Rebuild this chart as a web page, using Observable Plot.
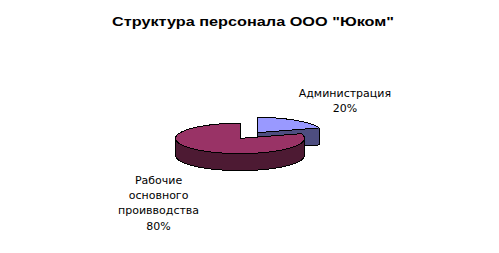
<!DOCTYPE html>
<html>
<head>
<meta charset="utf-8">
<script src="https://cdn.jsdelivr.net/npm/d3@7"></script>
<script src="https://cdn.jsdelivr.net/npm/@observablehq/plot@0.6"></script>
<style>
  html, body { margin: 0; padding: 0; background: #ffffff; }
  #chart svg { display: block; }
</style>
</head>
<body>
<div id="chart"></div>
<script>
// Staff structure of the company, drawn as an exploded 3D pie.
const title = "Структура персонала ООО \"Юком\"";
const categories = ["Администрация", "Рабочие\nосновного\nпроиввoдства"];
const shares = [20, 80];
const explodeBy = [0.47, 0];          // radial offset of each slice, in radii
const topColors = ["#9999ff", "#993366"];
const sideColors = ["#4d4d80", "#4d1a33"];

// Frame and pie geometry (pixels)
const W = 499, H = 253;
const R = 64.5;                 // horizontal radius in px = one unit
const cx = 239.5, cy = 137.9;   // pie centre
const tilt = 15.2 / R;          // vertical squash of the top face
const depth = 17 / R;           // thickness of the pie
const labelFont = "11px 'DejaVu Sans'";
const titleWidth = 282;         // the title is set wide and tight

const pie = d3.pie().sort(null).value(d => d)(shares);
const total = d3.sum(shares);

function slicePoint(s, theta, r, h) {
  const u = s.ou + r * Math.sin(theta);
  const v = s.ov + r * Math.cos(theta);
  return {x: u, y: v * tilt - h};
}
function arcPoints(s, t0, t1, h) {
  const n = Math.max(2, Math.ceil(Math.abs(t1 - t0) / (Math.PI / 180)));
  return d3.range(n + 1).map(i => slicePoint(s, t0 + (t1 - t0) * i / n, 1, h));
}

const slices = pie.map((p, i) => {
  const mid = (p.startAngle + p.endAngle) / 2;
  return {
    i, a: p.startAngle, b: p.endAngle, mid,
    ou: explodeBy[i] * Math.sin(mid),
    ov: explodeBy[i] * Math.cos(mid)
  };
});

// Faces, painted from back to front
const faces = [];
for (const s of [...slices].sort((p, q) => Math.cos(q.mid) - Math.cos(p.mid))) {
  const c0 = slicePoint(s, 0, 0, 0), c1 = slicePoint(s, 0, 0, depth);
  const side = sideColors[s.i];
  if (Math.sin(s.a) < -1e-6) {
    faces.push({fill: side, pts: [c0, slicePoint(s, s.a, 1, 0), slicePoint(s, s.a, 1, depth), c1]});
  }
  if (Math.sin(s.b) > 1e-6) {
    faces.push({fill: side, pts: [c0, slicePoint(s, s.b, 1, 0), slicePoint(s, s.b, 1, depth), c1]});
  }
  const lo = Math.max(s.a, Math.PI / 2), hi = Math.min(s.b, 3 * Math.PI / 2);
  if (lo < hi) {
    faces.push({fill: side, pts: [...arcPoints(s, lo, hi, 0), ...arcPoints(s, hi, lo, depth)]});
  }
  faces.push({fill: topColors[s.i], pts: [c0, ...arcPoints(s, s.a, s.b, 0)]});
}

// Data labels placed just outside the rim at each slice's mid angle
const ctx = document.createElement("canvas").getContext("2d");
ctx.font = labelFont;
const gap = 3;
const labels = slices.map(s => {
  const text = `${categories[s.i]}\n${Math.round(shares[s.i] / total * 100)}%`;
  const w = d3.max(text.split("\n"), l => ctx.measureText(l).width);
  const front = Math.cos(s.mid) < 0;
  const rim = slicePoint(s, s.mid, 1, front ? depth : 0);
  const sx = Math.sign(Math.sin(s.mid));
  return {
    text,
    x: rim.x + sx * (gap + w / 2) / R,
    y: rim.y,
    anchor: front ? "top" : "bottom",
    dy: front ? gap + 2 : -gap - 5
  };
});

const chart = Plot.plot({
  width: W,
  height: H,
  margin: 0,
  style: {background: "#ffffff"},
  x: {domain: [-cx / R, (W - cx) / R], axis: null},
  y: {domain: [-(H - cy) / R, cy / R], axis: null},
  marks: [
    ...faces.map(f => Plot.line([...f.pts, f.pts[0]], {
      x: "x", y: "y", fill: f.fill, stroke: "#000000", strokeWidth: 1,
      curve: "linear", shapeRendering: "crispEdges"
    })),
    ...labels.map(l => Plot.text([l], {
      x: "x", y: "y", text: "text",
      textAnchor: "middle", lineAnchor: l.anchor, dy: l.dy,
      lineHeight: 1.4, fontFamily: "DejaVu Sans", fontSize: 11, fill: "#000000"
    })),
    Plot.text([title], {
      frameAnchor: "top", text: d => d, dx: 3, dy: 16,
      fontFamily: "Liberation Sans", fontWeight: "bold", fontSize: 13.5, fill: "#000000",
      className: "chart-title"
    })
  ]
});
// Stretch the title glyphs to its set width
chart.querySelectorAll(".chart-title text").forEach(t => {
  t.setAttribute("textLength", titleWidth);
  t.setAttribute("lengthAdjust", "spacingAndGlyphs");
});
document.getElementById("chart").append(chart);
</script>
</body>
</html>
